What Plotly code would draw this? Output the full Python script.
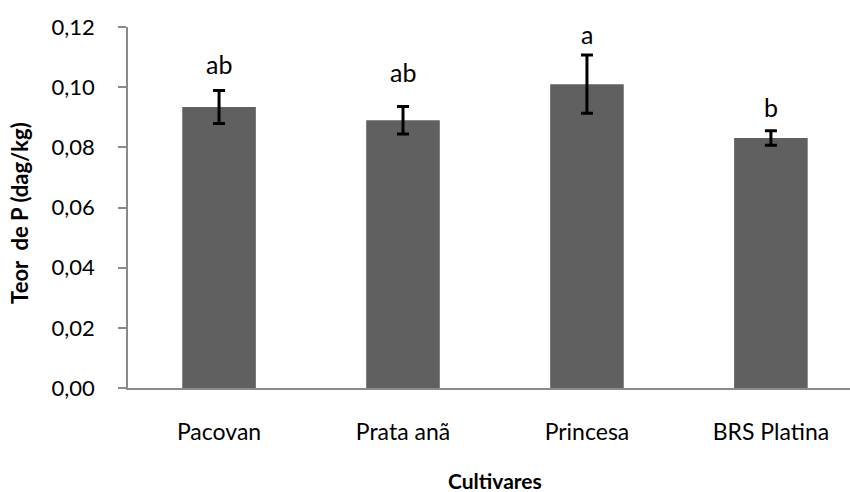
import plotly.graph_objects as go

cultivares = ["Pacovan", "Prata anã", "Princesa", "BRS Platina"]
teor_p = [0.0934, 0.0890, 0.1010, 0.0831]
erro = [0.0055, 0.0046, 0.0097, 0.0024]
letras = ["ab", "ab", "a", "b"]

# pixel offsets of the letter labels above the error bar tops (style)
letter_shift = [26, 34, 21, 24]

FONT = "Lato, 'Open Sans', sans-serif"

fig = go.Figure()
fig.add_trace(go.Bar(
    x=list(range(len(cultivares))),
    y=teor_p,
    width=0.40,
    marker=dict(color="#606060", line=dict(width=0)),
    error_y=dict(type="data", array=erro, visible=True,
                 color="#000000", thickness=3, width=6),
    hoverinfo="skip",
))

for i, (v, e, t, s) in enumerate(zip(teor_p, erro, letras, letter_shift)):
    fig.add_annotation(x=i, y=v + e, xref="x", yref="y", text=t,
                       showarrow=False, yanchor="middle", yshift=s,
                       font=dict(family=FONT, size=25, color="#000000"))

fig.add_annotation(x=-0.1496, y=0.485, xref="paper", yref="paper",
                   text="<b>Teor  de P (dag/kg)</b>", textangle=-90,
                   showarrow=False, xanchor="center", yanchor="middle",
                   font=dict(family=FONT, size=22, color="#000000"))
fig.add_annotation(x=0.508, y=-0.255, xref="paper", yref="paper",
                   text="<b>Cultivares</b>", showarrow=False,
                   xanchor="center", yanchor="middle",
                   font=dict(family=FONT, size=21, color="#000000"))

fig.update_layout(
    width=850, height=492,
    margin=dict(l=128, r=0, t=27, b=104, pad=0),
    paper_bgcolor="white", plot_bgcolor="white",
    separators=",.",
    showlegend=False,
    font=dict(family=FONT, size=23, color="#000000"),
)
fig.update_xaxes(
    range=[-0.495, 3.43],
    tickmode="array", tickvals=list(range(len(cultivares))), ticktext=cultivares,
    showline=True, linecolor="#8a8a8a", linewidth=1.5,
    ticks="", showgrid=False, zeroline=False,
    ticklabelstandoff=23,
    tickfont=dict(family=FONT, size=23, color="#000000"),
)
fig.update_yaxes(
    range=[0, 0.12], dtick=0.02, tick0=0, tickformat=".2f",
    showline=True, linecolor="#8a8a8a", linewidth=1.5,
    ticks="outside", ticklen=8, tickwidth=1.5, tickcolor="#8a8a8a",
    showgrid=False, zeroline=False,
    ticklabelstandoff=19,
    tickfont=dict(family=FONT, size=22, color="#000000"),
)

fig.write_html("out.html",
               config={"displayModeBar": False},
               post_script="document.body.style.margin='0';document.body.style.padding='0';")
